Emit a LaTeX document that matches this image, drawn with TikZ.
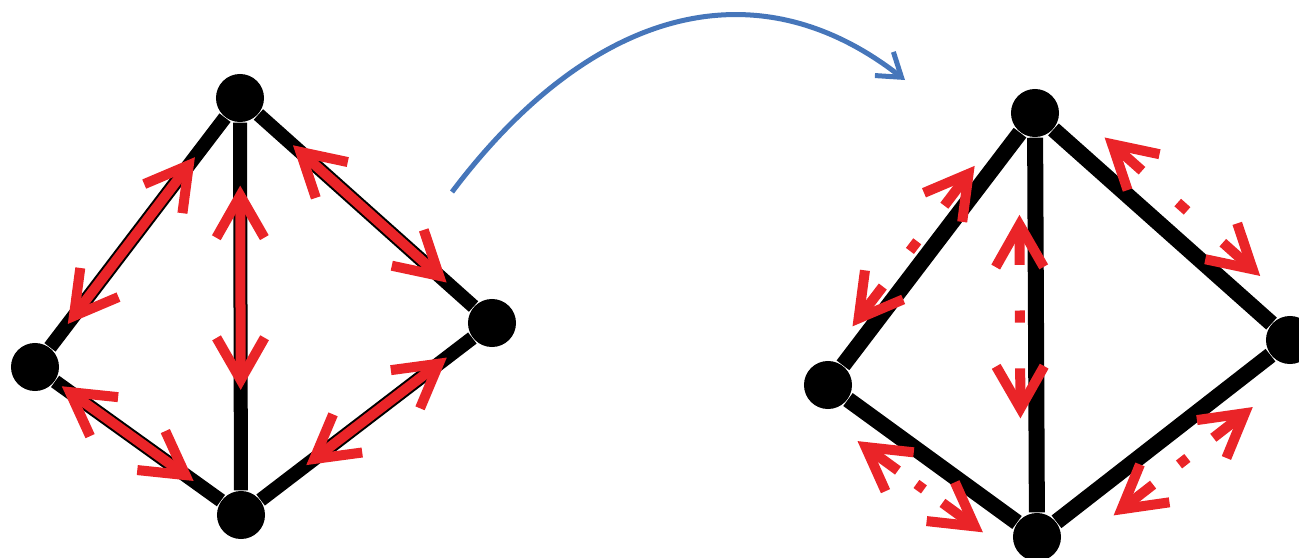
\documentclass[tikz,border=0pt]{standalone}
\usepackage{tikz}
\usetikzlibrary{arrows.meta, calc}
\definecolor{FlowRed}{RGB}{234,36,40}
\definecolor{MorphBlue}{RGB}{70,118,186}
\tikzset{
  vtx/.style      = {circle, fill=black, inner sep=0pt, minimum size=0.48cm},
  link/.style     = {line width=0.14cm, black},
  flow/.style     = {{Straight Barb[length=4.2mm,width=4.8mm]}-{Straight Barb[length=4.2mm,width=4.8mm]},
                     line width=0.1cm, FlowRed},
  flowtip/.style  = {-{Straight Barb[length=4.2mm,width=4.8mm]}, line width=0.1cm, FlowRed},
  flowdot/.style  = {line width=0.1cm, FlowRed},
  morph/.style    = {-{Straight Barb[length=2.2mm,width=3mm]}, line width=0.05cm, MorphBlue}
}
% broken double arrow beside an edge: from, to, start, end, offset
\newcommand{\splitflow}[5]{%
  \coordinate (fa) at ($(#1)!#3!(#2)!#5!90:(#2)$);
  \coordinate (fb) at ($(#1)!#4!(#2)!#5!90:(#2)$);
  \draw[flowtip] ($(fa)!0.5cm!(fb)$) -- (fa);
  \draw[flowtip] ($(fb)!0.5cm!(fa)$) -- (fb);
  \draw[flowdot] ($(fa)!0.47!(fb)$) -- ($(fa)!0.53!(fb)$);
}

\begin{document}
\begin{tikzpicture}[x=0.01cm, y=0.01cm]
\useasboundingbox (0,0) rectangle (1299,-557);
\clip (0,0) rectangle (1299,-557);
% first graph
\node[vtx] (t1) at (240,-98) {};
\node[vtx] (l1) at (35,-367) {};
\node[vtx] (r1) at (492,-323) {};
\node[vtx] (b1) at (241,-515) {};
\draw[link] (t1) -- (l1) -- (b1) -- (r1) -- (t1) -- (b1);
\draw[flow] ($(l1)!0.16!(t1)$) -- ($(l1)!0.78!(t1)$);
\draw[flow] ($(t1)!0.21!(b1)$) -- ($(t1)!0.70!(b1)$);
\draw[flow] ($(t1)!0.21!(r1)$) -- ($(t1)!0.82!(r1)$);
\draw[flow] ($(l1)!0.13!(b1)$) -- ($(l1)!0.77!(b1)$);
\draw[flow] ($(b1)!0.26!(r1)$) -- ($(b1)!0.82!(r1)$);
% second graph
\node[vtx] (t2) at (1035,-113) {};
\node[vtx] (l2) at (828,-385) {};
\node[vtx] (r2) at (1290,-340) {};
\node[vtx] (b2) at (1037,-537) {};
\draw[link, line width=0.16cm] (t2) -- (l2) -- (b2) -- (r2) -- (t2) -- (b2);
\splitflow{l2}{t2}{0.18}{0.77}{0.16cm}
\splitflow{t2}{r2}{0.20}{0.81}{0.28cm}
\splitflow{l2}{b2}{0.22}{0.82}{-0.28cm}
\splitflow{b2}{r2}{0.23}{0.78}{-0.30cm}
\splitflow{t2}{b2}{0.24}{0.72}{-0.16cm}
% transformation
\coordinate (ms) at (452,-192);
\coordinate (me) at (905,-80);
\draw[morph] (ms) to[out=53, in=142, out looseness=1.25, in looseness=1.05] (me);
\end{tikzpicture}
\end{document}
